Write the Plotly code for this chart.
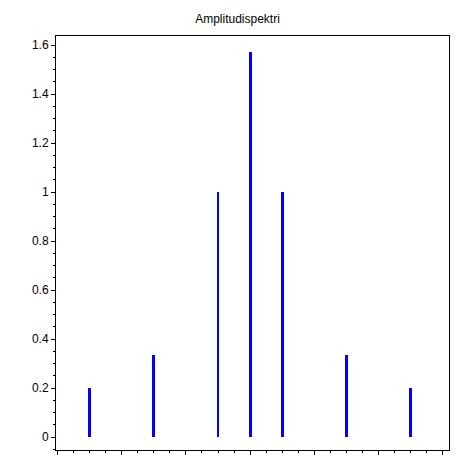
import plotly.graph_objects as go

freqs = [-5, -3, -1, 0, 1, 3, 5]
amps = [0.2, 0.3333, 1.0, 1.5708, 1.0, 0.3333, 0.2]

fig = go.Figure(go.Bar(x=freqs, y=amps, width=0.09, marker=dict(color="#0000ff", line=dict(width=0))))
fig.update_layout(
    width=459, height=459, plot_bgcolor="white", paper_bgcolor="white",
    margin=dict(l=48, r=18, t=28, b=17, autoexpand=False),
    title=dict(text="Amplitudispektri", x=0.5, y=0.985, xanchor="center", font=dict(family="Liberation Sans", size=12, color="black")),
    font=dict(family="Liberation Sans", size=12, color="black"),
    showlegend=False, bargap=0,
)
ax = dict(showline=True, linecolor="black", linewidth=1, mirror=True, showgrid=False, zeroline=False,
          ticks="outside", ticklen=4, tickcolor="black", automargin=False)
fig.update_xaxes(range=[-6.05, 6.2], tickvals=[-6, -4, -2, 0, 2, 4, 6],
                 ticktext=["−6", "−4", "−2", "0", "2", "4", "6"],
                 minor=dict(ticks="outside", ticklen=2, dtick=0.5, tickcolor="black"), **ax)
fig.update_yaxes(range=[-0.053, 1.637], tickvals=[0, 0.2, 0.4, 0.6, 0.8, 1, 1.2, 1.4, 1.6],
                 minor=dict(ticks="outside", ticklen=2, dtick=0.05, tickcolor="black"), **ax)
fig.write_html("out.html")
